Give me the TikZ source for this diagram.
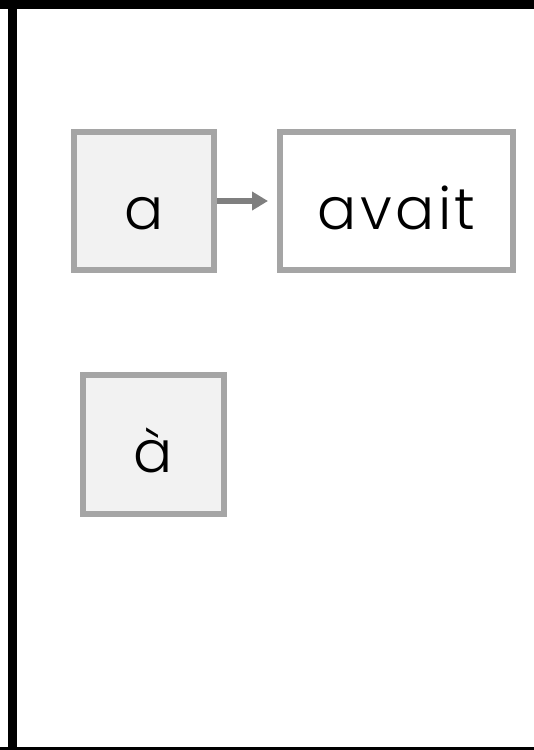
\documentclass[tikz,border=0pt]{standalone}
\usepackage{fontspec}
\setmainfont{Poppins}[UprightFont=* Light,LetterSpace=6]
\usepackage{tikz}
\usetikzlibrary{arrows.meta,positioning}
\definecolor{wordline}{HTML}{A5A5A5}
\definecolor{wordfill}{HTML}{F2F2F2}
\definecolor{linkgray}{HTML}{7F7F7F}

\begin{document}
\begin{tikzpicture}[x=1pt,y=-1pt,
		word/.style={draw=wordline,line width=6pt,inner sep=0pt,text height=56pt,text depth=0pt,
			font=\fontsize{58}{62}\selectfont,minimum height=138pt}]
		\useasboundingbox (0,0) rectangle (534,750);
		\fill (0,0) rectangle (534,9);
		\fill (8.3,0) rectangle (17.3,750);
		\fill (0,747) rectangle (534,750);
		\node[word,fill=wordfill,minimum width=140pt] (a) at (144,201) {a};
		\node[word,fill=white,minimum width=233pt,right=60pt of a] (avait) {avait};
		\node[word,fill=wordfill,minimum width=141pt,minimum height=139pt,below=99pt of a,xshift=9.5pt] (agrave) {à};
		\draw[-{Triangle[length=16pt,width=18pt]},line width=5.5pt,linkgray,shorten >=9pt] (a.east) -- (avait.west);
	\end{tikzpicture}
\end{document}
